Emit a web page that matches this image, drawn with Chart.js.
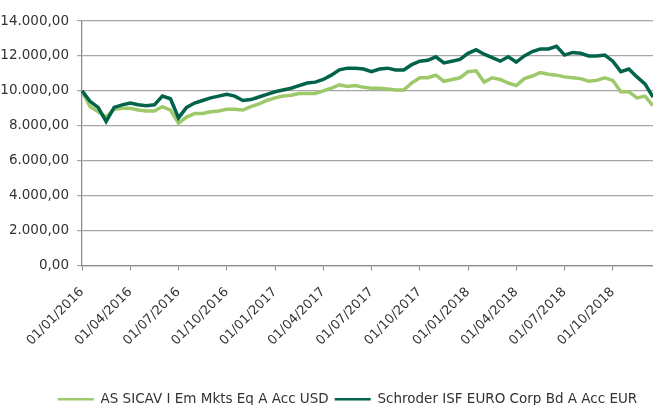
<!DOCTYPE html>
<html>
<head>
<meta charset="utf-8">
<script src="https://cdn.jsdelivr.net/npm/chart.js@4.4.1/dist/chart.umd.min.js"></script>
<style>
  html, body { margin: 0; padding: 0; background: #fff; overflow: hidden; }
  #wrap { width: 653px; height: 405px; }
</style>
</head>
<body>
<div id="wrap"><canvas id="chart"></canvas></div>
<script>
// semi-monthly dates from 01/01/2016 to 16/12/2018
const dates = [];
['2016', '2017', '2018'].forEach(y => {
    for (let m = 1; m <= 12; m++) {
        const mm = String(m).padStart(2, '0');
        dates.push('01/' + mm + '/' + y, '16/' + mm + '/' + y);
    }
});
const quarterStarts = ['01/01', '01/04', '01/07', '01/10'];

const asSicav = [
    10000, 9100, 8800, 8500, 8950, 9000, 9000, 8900, 8850, 8850, 9100, 8900,
    8150, 8500, 8700, 8700, 8800, 8850, 8950, 8950, 8900, 9100, 9250, 9450,
    9600, 9700, 9750, 9850, 9850, 9850, 10000, 10150, 10350, 10250, 10300, 10200,
    10150, 10150, 10100, 10050, 10050, 10450, 10750, 10750, 10900, 10550, 10650, 10750,
    11100, 11150, 10500, 10750, 10650, 10450, 10300, 10700, 10850, 11050, 10950, 10900,
    10800, 10750, 10700, 10550, 10600, 10750, 10600, 9950, 9950, 9600, 9700, 9150
];
const schroder = [
    10000, 9400, 9050, 8250, 9050, 9200, 9300, 9200, 9150, 9200, 9700, 9550,
    8450, 9050, 9300, 9450, 9600, 9700, 9800, 9700, 9450, 9500, 9650, 9800,
    9950, 10050, 10150, 10300, 10450, 10500, 10650, 10900, 11200, 11300, 11300, 11250,
    11100, 11250, 11300, 11200, 11200, 11500, 11700, 11750, 11950, 11600, 11700, 11800,
    12150, 12350, 12100, 11900, 11700, 11950, 11650, 12000, 12250, 12400, 12400, 12550,
    12050, 12200, 12150, 12000, 12000, 12050, 11700, 11100, 11250, 10800, 10400, 9650
];

const yMin = 0;
const yMax = 14000;
const yStep = 2000;

function formatEu(v) {
    const parts = v.toFixed(2).split('.');
    return parts[0].replace(/\B(?=(\d{3})+(?!\d))/g, '.') + ',' + parts[1];
}

const font = { family: 'DejaVu Sans', size: 13.5 };
const textColor = '#333333';

// the legend sits a little right of centre in the original
const shiftLegend = {
    id: 'shiftLegend',
    afterLayout(chart) {
        chart.legend.left += 21;
        chart.legend.right += 21;
    }
};

const ctx = document.getElementById('chart').getContext('2d');

new Chart(ctx, {
    type: 'line',
    data: {
        labels: dates,
        datasets: [{
            label: 'AS SICAV I Em Mkts Eq A Acc USD',
            data: asSicav,
            borderColor: '#9dc96a',
            borderWidth: 3.5,
            pointRadius: 0,
            order: 1
        }, {
            label: 'Schroder ISF EURO Corp Bd A Acc EUR',
            data: schroder,
            borderColor: '#00634a',
            borderWidth: 3.5,
            pointRadius: 0,
            order: 0
        }]
    },
    plugins: [shiftLegend],
    options: {
        responsive: true,
        maintainAspectRatio: false,
        animation: false,
        layout: { padding: { top: 21, right: 0, bottom: -11, left: 0 } },
        plugins: {
            tooltip: { enabled: false },
            legend: {
                position: 'bottom',
                labels: {
                    usePointStyle: true,
                    pointStyle: 'line',
                    pointStyleWidth: 36,
                    padding: 6,
                    color: textColor,
                    font: font,
                    sort: (a, b) => a.datasetIndex - b.datasetIndex,
                    generateLabels: chart => Chart.defaults.plugins.legend.labels.generateLabels(chart)
                        .map(l => Object.assign(l, { lineWidth: 2.5 }))
                }
            }
        },
        scales: {
            x: {
                ticks: {
                    autoSkip: false,
                    minRotation: 45,
                    maxRotation: 45,
                    padding: 14,
                    color: textColor,
                    font: { family: 'DejaVu Sans', size: 13 },
                    callback: (val, i) => quarterStarts.includes(dates[i].slice(0, 5)) ? dates[i] : null
                },
                grid: { drawOnChartArea: false, tickLength: 5, color: '#8c8c8c' },
                border: { color: '#8c8c8c', width: 1.3 },
                afterFit: scale => {
                    scale.height = 121;
                    scale.paddingRight = 0;
                }
            },
            y: {
                min: yMin,
                max: yMax,
                ticks: {
                    stepSize: yStep,
                    color: textColor,
                    font: font,
                    padding: 8,
                    callback: v => formatEu(v)
                },
                grid: { color: '#a6a6a6', lineWidth: 1.2, tickLength: 5 },
                border: { color: '#8c8c8c', width: 1.3 },
                afterFit: scale => {
                    scale.width = 82;
                }
            }
        }
    }
});
</script>
</body>
</html>
